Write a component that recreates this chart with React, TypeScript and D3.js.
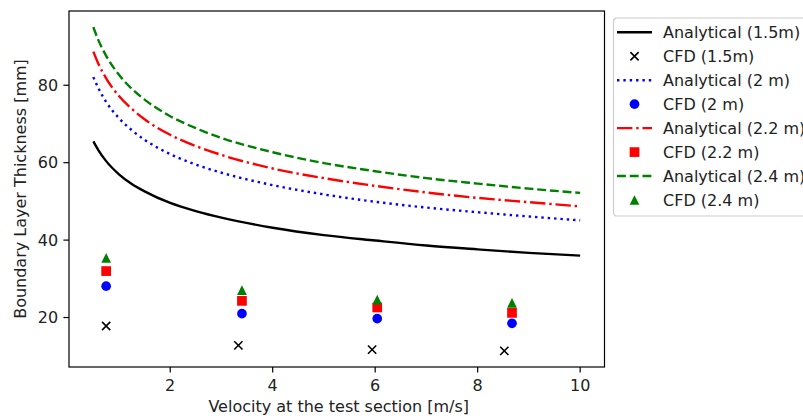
import React from "react";
import * as d3 from "d3";

// velocity samples for the analytical curves [m/s]
const velocity = [0.5, 0.6, 0.75, 1, 1.25, 1.5, 2, 2.5, 3, 4, 5, 6, 7, 8, 9, 10];
const analytical15 = [65.5, 63.2, 60.4, 57.0, 54.5, 52.6, 49.6, 47.5, 45.8, 43.2, 41.3, 39.9, 38.6, 37.6, 36.7, 36.0];
const analytical20 = [82.1, 79.2, 75.7, 71.5, 68.4, 65.9, 62.2, 59.5, 57.4, 54.2, 51.8, 49.9, 48.4, 47.2, 46.1, 45.1];
const analytical22 = [88.7, 85.5, 81.8, 77.2, 73.9, 71.2, 67.2, 64.3, 62.0, 58.5, 56.0, 54.0, 52.3, 50.9, 49.8, 48.7];
const analytical24 = [95.0, 91.6, 87.6, 82.7, 79.1, 76.3, 72.0, 68.9, 66.4, 62.7, 59.9, 57.8, 56.0, 54.6, 53.3, 52.2];

// CFD results
const cfdVel15 = [0.75, 3.33, 5.94, 8.52];
const cfdVel = [0.75, 3.4, 6.04, 8.67];
const cfd15 = [17.8, 12.8, 11.7, 11.4];
const cfd20 = [28.1, 21.0, 19.7, 18.5];
const cfd22 = [32.0, 24.3, 22.6, 21.2];
const cfd24 = [35.4, 27.1, 24.6, 23.8];

const xTicks = [2, 4, 6, 8, 10];
const yTicks = [20, 40, 60, 80];

const W = 803, H = 416;
const left = 69, right = 604.5, top = 11, bottom = 367;
const font = "DejaVu Sans, sans-serif";
const fs = 16;
const lw = 2.4;
const tickLen = 5.6;

function pad(ext: [number, number]): [number, number] {
  const r = ext[1] - ext[0];
  return [ext[0] - 0.05 * r, ext[1] + 0.05 * r];
}

export default function App() {
  const allX = [...velocity, ...cfdVel15, ...cfdVel];
  const allY = [...analytical15, ...analytical20, ...analytical22, ...analytical24, ...cfd15, ...cfd20, ...cfd22, ...cfd24];
  const x = d3.scaleLinear().domain(pad(d3.extent(allX) as [number, number])).range([left, right]);
  const y = d3.scaleLinear().domain(pad(d3.extent(allY) as [number, number])).range([bottom, top]);

  const line = d3.line<number>()
    .x((d, i) => x(velocity[i]))
    .y((d) => y(d))
    .curve(d3.curveMonotoneX);

  const curves = [
    { data: analytical15, color: "black", dash: "none", label: "Analytical (1.5m)" },
    { data: analytical20, color: "blue", dash: "2.4 3.96", label: "Analytical (2 m)" },
    { data: analytical22, color: "red", dash: "15.4 3.84 2.4 3.84", label: "Analytical (2.2 m)" },
    { data: analytical24, color: "green", dash: "8.9 3.84", label: "Analytical (2.4 m)" },
  ];

  const ms = 9.7;
  const marker = (kind: string, cx: number, cy: number, key: string) => {
    const h = ms / 2;
    if (kind === "x") {
      const k = h * 0.85;
      return (
        <path key={key} d={`M${cx - k},${cy - k}L${cx + k},${cy + k}M${cx - k},${cy + k}L${cx + k},${cy - k}`}
          stroke="black" strokeWidth={1.6} fill="none" />
      );
    }
    if (kind === "o") return <circle key={key} cx={cx} cy={cy} r={h} fill="blue" />;
    if (kind === "s") return <rect key={key} x={cx - h} y={cy - h} width={ms} height={ms} fill="red" />;
    return <path key={key} d={`M${cx},${cy - h}L${cx + h},${cy + h}L${cx - h},${cy + h}Z`} fill="green" />;
  };

  const scatters = [
    { xs: cfdVel15, ys: cfd15, kind: "x", label: "CFD (1.5m)" },
    { xs: cfdVel, ys: cfd20, kind: "o", label: "CFD (2 m)" },
    { xs: cfdVel, ys: cfd22, kind: "s", label: "CFD (2.2 m)" },
    { xs: cfdVel, ys: cfd24, kind: "^", label: "CFD (2.4 m)" },
  ];

  const legendItems = [
    { type: "line", c: curves[0] }, { type: "mark", s: scatters[0] },
    { type: "line", c: curves[1] }, { type: "mark", s: scatters[1] },
    { type: "line", c: curves[2] }, { type: "mark", s: scatters[2] },
    { type: "line", c: curves[3] }, { type: "mark", s: scatters[3] },
  ];

  return (
    <svg width={W} height={H} style={{ position: "absolute", left: 0, top: 0, background: "white" }}>
      <rect x={0} y={0} width={W} height={H} fill="white" />
      <defs>
        <clipPath id="plot">
          <rect x={left} y={top} width={right - left} height={bottom - top} />
        </clipPath>
      </defs>
      <g clipPath="url(#plot)">
        {curves.map((c) => (
          <path key={c.label} d={line(c.data) || ""} fill="none" stroke={c.color} strokeWidth={lw}
            strokeDasharray={c.dash} />
        ))}
        {scatters.map((s) => s.xs.map((v, i) => marker(s.kind, x(v), y(s.ys[i]), s.label + i)))}
      </g>
      <rect x={left} y={top} width={right - left} height={bottom - top} fill="none" stroke="black" strokeWidth={1.2} />
      {xTicks.map((t) => (
        <g key={"x" + t} transform={`translate(${x(t)},${bottom})`}>
          <line y2={tickLen} stroke="black" strokeWidth={1.2} />
          <text y={24} textAnchor="middle" fontFamily={font} fontSize={fs} fill="#222">{t}</text>
        </g>
      ))}
      {yTicks.map((t) => (
        <g key={"y" + t} transform={`translate(${left},${y(t)})`}>
          <line x2={-tickLen} stroke="black" strokeWidth={1.2} />
          <text x={-10.8} dy="0.36em" textAnchor="end" fontFamily={font} fontSize={fs} fill="#222">{t}</text>
        </g>
      ))}
      <text x={(left + right) / 2 + 2} y={412} textAnchor="middle" fontFamily={font} fontSize={fs} fill="#222">
        Velocity at the test section [m/s]
      </text>
      <text transform={`translate(25.5,${(top + bottom) / 2}) rotate(-90)`} textAnchor="middle" fontFamily={font}
        fontSize={fs} fill="#222">
        Boundary Layer Thickness [mm]
      </text>
      <g transform="translate(613,18)">
        <rect x={0.5} y={0} width={240} height={198} rx={3.5} fill="white" fillOpacity={0.8} stroke="#ccc" strokeWidth={1.2} />
        {legendItems.map((it, i) => {
          const cy = 14.3 + i * 23.96;
          if (it.type === "line") {
            const c = (it as any).c;
            return (
              <g key={"l" + i}>
                <line x1={4} x2={39} y1={cy} y2={cy} stroke={c.color} strokeWidth={lw} strokeDasharray={c.dash} />
                <text x={50} y={cy} dy="0.36em" fontFamily={font} fontSize={fs} fill="#222">{c.label}</text>
              </g>
            );
          }
          const s = (it as any).s;
          return (
            <g key={"l" + i}>
              {marker(s.kind, 21.5, cy, "lm" + i)}
              <text x={50} y={cy} dy="0.36em" fontFamily={font} fontSize={fs} fill="#222">{s.label}</text>
            </g>
          );
        })}
      </g>
    </svg>
  );
}
